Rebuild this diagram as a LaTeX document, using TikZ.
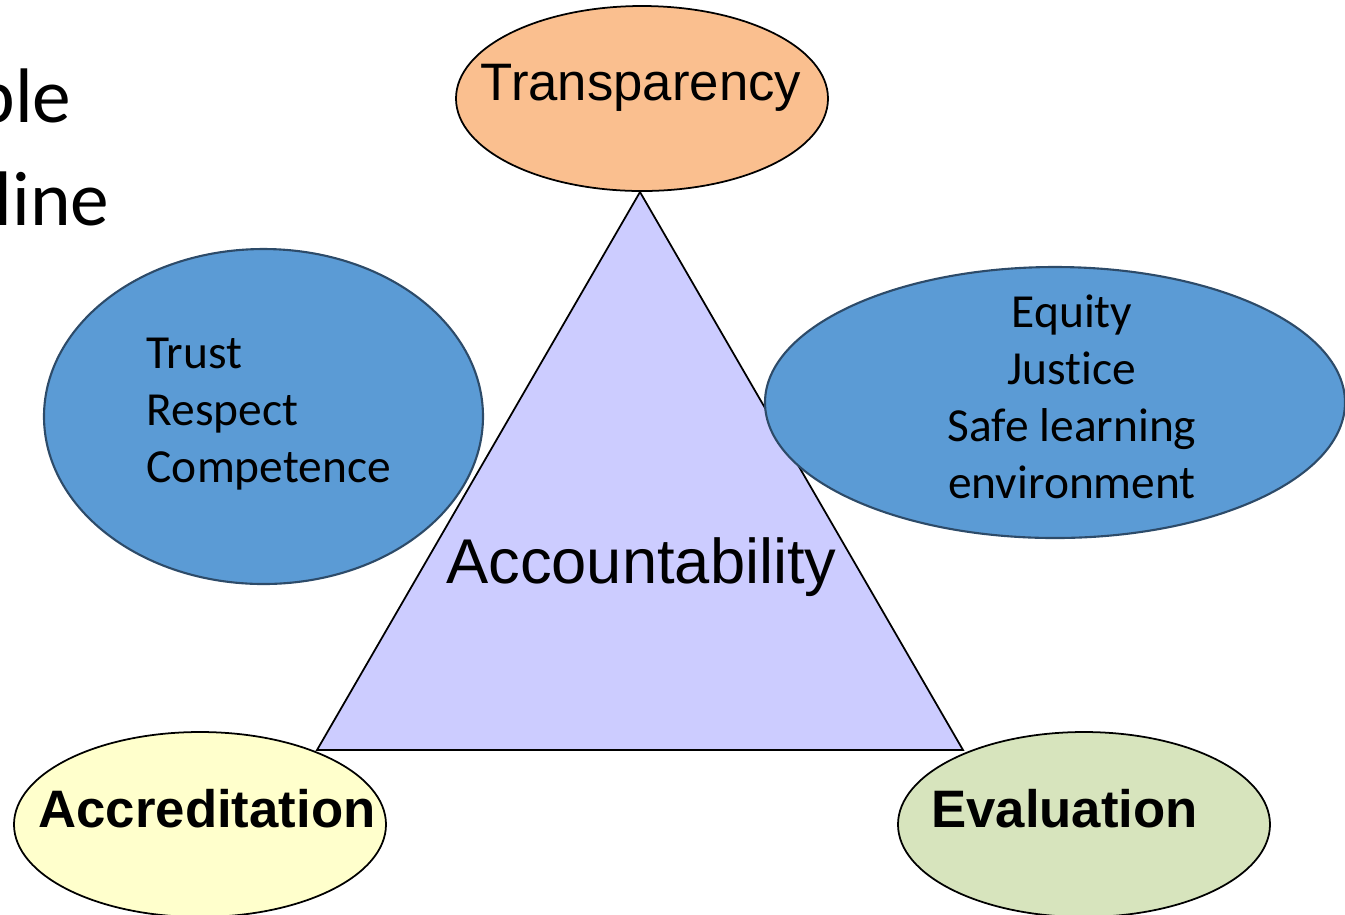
\documentclass[tikz,border=0pt]{standalone}
\usepackage{fontspec}
\setmainfont{Liberation Sans}
\newfontfamily\calibrifont[Ligatures=NoCommon]{Carlito}
\usepackage{xcolor}
\usepackage{tikz}
\usetikzlibrary{shapes.geometric,positioning}

\definecolor{lavender}{RGB}{204,204,255}
\definecolor{peach}{RGB}{250,191,143}
\definecolor{paleyellow}{RGB}{255,255,204}
\definecolor{palegreen}{RGB}{215,228,189}
\definecolor{valueblue}{RGB}{91,155,213}
\definecolor{valueedge}{RGB}{45,75,105}

\begin{document}
\begin{tikzpicture}[
    bubble/.style = {ellipse, draw, line width=0.5pt, inner sep=0pt, outer sep=0pt,
                     minimum width=3.72cm, minimum height=1.85cm},
    valuebubble/.style = {ellipse, draw=valueedge, fill=valueblue, line width=0.6pt,
                          inner sep=0pt, outer sep=0pt},
    head/.style = {anchor=base, inner sep=0pt, font=\fontsize{15}{18}\selectfont},
    boldhead/.style = {head, font=\fontsize{15}{18}\selectfont\bfseries},
    values/.style = {anchor=base, inner sep=0pt, font=\calibrifont\fontsize{13.5}{16.2}\selectfont},
    cut/.style = {anchor=base east, inner sep=0pt, font=\calibrifont\fontsize{22}{26}\selectfont}
]
    \useasboundingbox (0,0) rectangle (13.45,-9.14);

    % Slide title (cut off)
    \node at (0.72,-1.22) [cut] (T1) {ble};
    \node at (1.10,-2.25) [cut] (T2) {line};

    % Triangle
    \coordinate (A) at (6.40,-1.92);
    \coordinate (B) at (3.17,-7.50);
    \coordinate (C) at (9.63,-7.50);
    \draw[fill=lavender, line width=0.5pt, line join=miter] (A) -- (B) -- (C) -- cycle;
    \node at (6.415,-5.83) [head, font=\fontsize{18}{21}\selectfont] (ACC) {Accountability};

    % Corners
    \node at (6.42,-0.985) [bubble, fill=peach] (TR) {};
    \node at (2.00,-8.245) [bubble, fill=paleyellow] (AR) {};
    \node at (10.84,-8.245) [bubble, fill=palegreen] (EV) {};
    \node at (6.41,-1.005) [head] (TRt) {Transparency};
    \node at (2.07,-8.27) [boldhead] (ARt) {Accreditation};
    \node at (10.645,-8.27) [boldhead] (EVt) {Evaluation};

    % Values
    \node at (2.635,-4.165) [valuebubble, minimum width=4.39cm, minimum height=3.35cm] (V1) {};
    \node at (10.55,-4.025) [valuebubble, minimum width=5.80cm, minimum height=2.71cm] (V2) {};
    \node at (1.46,-4.82) [values, anchor=base west, align=left] (V1t) {Trust\\Respect\\Competence};
    \node at (10.72,-4.98) [values, align=center] (V2t) {Equity\\Justice\\Safe learning\\environment};
\end{tikzpicture}
\end{document}
